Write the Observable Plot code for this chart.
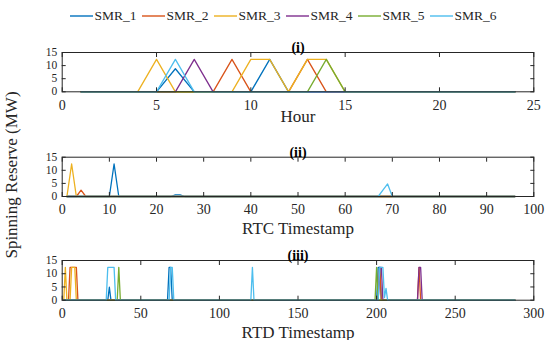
<!DOCTYPE html>
<html><head><meta charset="utf-8">
<script src="https://cdn.jsdelivr.net/npm/d3@7"></script>
<script src="https://cdn.jsdelivr.net/npm/@observablehq/plot@0.6"></script>
<style>
body{margin:0;background:#fff;}
#root{position:relative;width:548px;height:340px;overflow:hidden;font-family:"Liberation Serif","Times New Roman",serif;color:#262626;background:#fff;}
.panel{position:absolute;left:0;}
.panel svg{overflow:visible;}
.panel svg, .panel svg text{font-family:"Liberation Serif","Times New Roman",serif !important;font-variant-numeric:normal !important;}
#legend{position:absolute;top:7px;left:70px;height:18px;display:flex;align-items:center;font-size:13.5px;white-space:nowrap;}
#legend .item{display:flex;align-items:center;width:72px;}
#legend svg{display:block;margin-right:1.5px;}
#ylabel{position:absolute;left:12px;top:175px;transform:translate(-50%,-50%) rotate(-90deg);font-size:17px;white-space:nowrap;}
</style></head><body><div id="root"><div id="legend"></div><div id="ylabel">Spinning Reserve (MW)</div></div>
<script>
const seriesNames = ["SMR_1", "SMR_2", "SMR_3", "SMR_4", "SMR_5", "SMR_6"];
const colors = ["#0072BD", "#D95319", "#EDB120", "#7E2F8E", "#77AC30", "#4DBEEE"];
const yTicks = [0, 5, 10, 15];

// Panel (i): hourly
const hourTicks = [0, 5, 10, 15, 20, 25];
const hourSMR1 = [[1,0],[5,0],[6,8.8],[7,0],[10,0],[11,12.4],[12,0],[24,0]];
const hourSMR2 = [[1,0],[8,0],[9,12.4],[10,0],[12,0],[13,12.4],[14,0],[24,0]];
const hourSMR3 = [[1,0],[4,0],[5,12.4],[6,0],[9,0],[10,12.4],[11,12.4],[12,0],[13,12.4],[14,12.4],[15,0],[24,0]];
const hourSMR4 = [[1,0],[6,0],[7,12.4],[8,0],[24,0]];
const hourSMR5 = [[1,0],[13,0],[14,12.4],[15,0],[24,0]];
const hourSMR6 = [[1,0],[5,0],[6,12.4],[7,0],[24,0]];

// Panel (ii): RTC timestamps
const rtcTicks = [0, 10, 20, 30, 40, 50, 60, 70, 80, 90, 100];
const rtcSMR1 = [[1,0],[10,0],[11,12.4],[12,0],[23,0],[24,0.6],[25,0.6],[26,0],[96,0]];
const rtcSMR2 = [[1,0],[3,0],[4,2.4],[5,0],[96,0]];
const rtcSMR3 = [[1,0],[2,12.4],[3,0],[96,0]];
const rtcSMR4 = [[1,0],[96,0]];
const rtcSMR5 = [[1,0],[96,0]];
const rtcSMR6 = [[1,0],[67,0],[68,2.4],[69,4.8],[70,0],[96,0]];

// Panel (iii): RTD timestamps
const rtdTicks = [0, 50, 100, 150, 200, 250, 300];
const rtdSMR1 = [[1,0],[29,0],[30,4.9],[31,0],[67,0],[68,12.4],[69,12.4],[70,0],[200,0],[201,12.4],[202,12.4],[203,0],[288,0]];
const rtdSMR2 = [[1,0],[4,0],[5,12.4],[9,12.4],[10,0],[201,0],[202,12.4],[203,0],[226,0],[227,12.4],[228,0],[288,0]];
const rtdSMR3 = [[1,0],[2,12.4],[3,0],[5,0],[6,12.4],[8,12.4],[9,0],[288,0]];
const rtdSMR4 = [[1,0],[201,0],[202,12.4],[203,12.4],[204,0],[226,0],[227,12.4],[228,12.4],[229,0],[288,0]];
const rtdSMR5 = [[1,0],[35,0],[36,12.4],[37,0],[199,0],[200,12.4],[201,0],[288,0]];
const rtdSMR6 = [[1,0],[28,0],[29,12.4],[33,12.4],[34,0],[68,0],[69,12.4],[70,12.4],[71,0],[120,0],[121,12.4],[122,0],[201,0],[202,12.4],[204,12.4],[205,1],[206,4.5],[207,0],[288,0]];

const FONT = '"Liberation Serif","Times New Roman",serif';
const INK = "#262626";

function panel({series, xDomain, xTicks, title, xLabel, top, height, mt, mb, labelDy}) {
  const rows = [];
  series.forEach((pts, i) => pts.forEach(([x, y]) => rows.push({series: seriesNames[i], x, y})));
  const chart = Plot.plot({
    width: 548, height,
    marginLeft: 61.7, marginRight: 14.7, marginTop: mt, marginBottom: mb,
    style: {fontFamily: FONT, fontSize: "13px", background: "transparent", overflow: "visible", color: INK},
    x: {domain: xDomain},
    y: {domain: [0, 15]},
    color: {domain: seriesNames, range: colors},
    marks: [
      Plot.line(rows, {x: "x", y: "y", z: "series", stroke: "series", strokeWidth: 1.3}),
      Plot.frame({stroke: INK, strokeWidth: 1}),
      Plot.axisX(xTicks, {anchor: "bottom", tickSize: 0, tickPadding: 8, fontSize: 14, fontFamily: FONT, label: null, fill: INK}),
      Plot.axisX(xTicks, {anchor: "bottom", tickSize: -4, text: null, label: null, stroke: INK}),
      Plot.axisX(xTicks, {anchor: "top", tickSize: -4, text: null, label: null, stroke: INK}),
      Plot.axisY(yTicks, {anchor: "left", tickSize: 0, tickPadding: 5, fontSize: 11.5, fontFamily: FONT, label: null, fill: INK}),
      Plot.axisY(yTicks, {anchor: "left", tickSize: -4, text: null, label: null, stroke: INK}),
      Plot.axisY(yTicks, {anchor: "right", tickSize: -4, text: null, label: null, stroke: INK}),
      Plot.text([title], {text: d => d, frameAnchor: "top", dy: -10, fontWeight: "bold", fontSize: 14, fontFamily: FONT, fill: "#000"}),
      Plot.text([xLabel], {text: d => d, frameAnchor: "bottom", lineAnchor: "bottom", dy: labelDy, fontSize: 17, fontFamily: FONT, fill: INK})
    ]
  });
  const div = document.createElement("div");
  div.className = "panel";
  div.style.top = top + "px";
  div.appendChild(chart);
  document.getElementById("root").appendChild(div);
}

panel({series: [hourSMR1, hourSMR2, hourSMR3, hourSMR4, hourSMR5, hourSMR6], xDomain: [0, 25], xTicks: hourTicks,
  title: "(i)", xLabel: "Hour", top: 28, height: 100, mt: 24, mb: 36.7, labelDy: 30.4});
panel({series: [rtcSMR1, rtcSMR2, rtcSMR3, rtcSMR4, rtcSMR5, rtcSMR6], xDomain: [0, 100], xTicks: rtcTicks,
  title: "(ii)", xLabel: "RTC Timestamp", top: 133, height: 105, mt: 23.7, mb: 42, labelDy: 37});
panel({series: [rtdSMR1, rtdSMR2, rtdSMR3, rtdSMR4, rtdSMR5, rtdSMR6], xDomain: [0, 300], xTicks: rtdTicks,
  title: "(iii)", xLabel: "RTD Timestamp", top: 237, height: 103, mt: 23, mb: 40.3, labelDy: 37.3});

const NS = "http://www.w3.org/2000/svg";
const legend = document.getElementById("legend");
seriesNames.forEach((name, i) => {
  const item = document.createElement("div");
  item.className = "item";
  const sw = document.createElementNS(NS, "svg");
  sw.setAttribute("width", "23");
  sw.setAttribute("height", "4");
  const ln = document.createElementNS(NS, "line");
  ln.setAttribute("x1", "0"); ln.setAttribute("x2", "23");
  ln.setAttribute("y1", "2"); ln.setAttribute("y2", "2");
  ln.setAttribute("stroke", colors[i]);
  ln.setAttribute("stroke-width", "1.4");
  sw.appendChild(ln);
  const label = document.createElement("span");
  label.textContent = name;
  item.appendChild(sw);
  item.appendChild(label);
  legend.appendChild(item);
});
</script>
</body></html>
